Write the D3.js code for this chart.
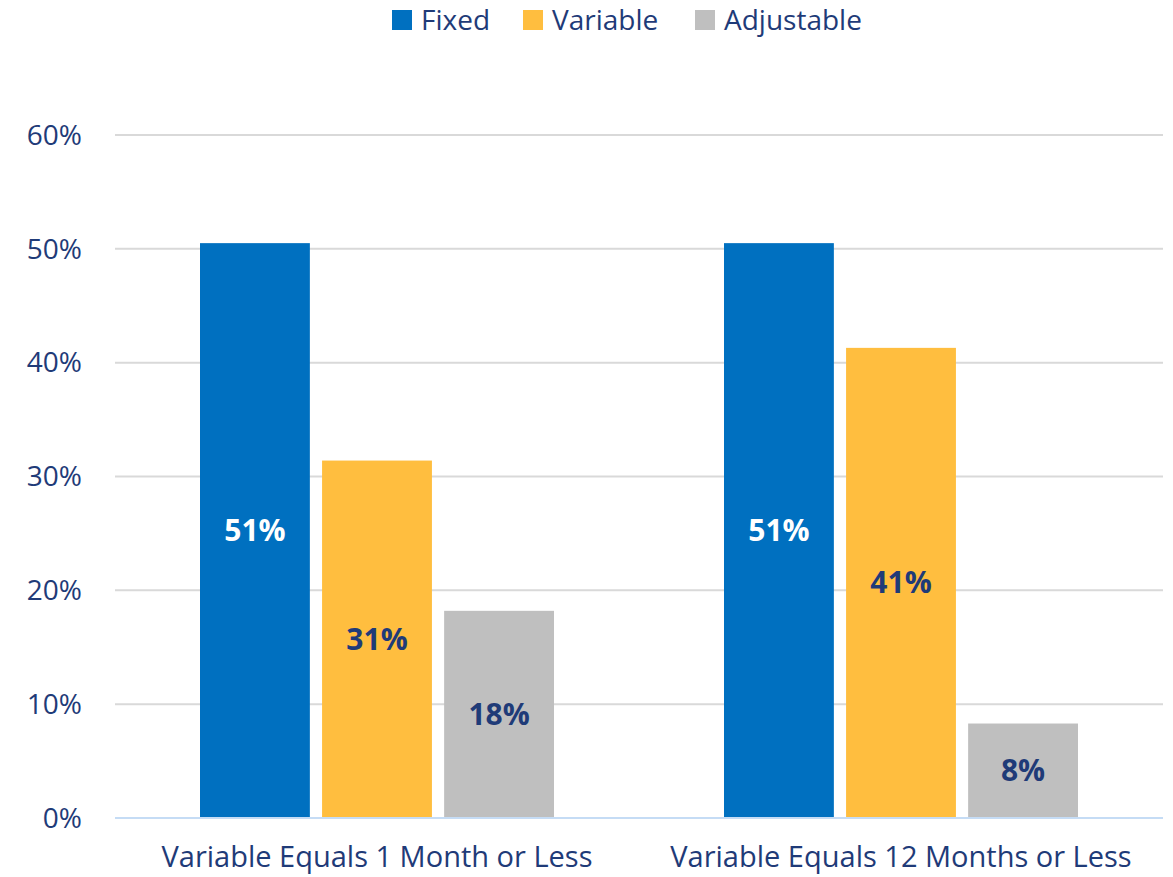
<!DOCTYPE html>
<html lang="en">
<head>
  <meta charset="UTF-8">
  <script src="https://d3js.org/d3.v7.min.js"></script>
  <title>Bar Chart</title>
  <style>
    body { margin: 0; background: #fff; }
    text { font-family: "Open Sans", "Noto Sans", sans-serif; }
  </style>
</head>
<body>
<div id="my_dataviz"></div>
<script>

var categories = ["Variable Equals 1 Month or Less", "Variable Equals 12 Months or Less"];
var seriesNames = ["Fixed", "Variable", "Adjustable"];
var fixed = [0.505, 0.505];
var variable = [0.314, 0.413];
var adjustable = [0.182, 0.083];
var yTicks = [0, 0.1, 0.2, 0.3, 0.4, 0.5, 0.6];

var colors = ["#0070C0", "#FFBE3F", "#BFBFBF"];
var labelColors = ["#ffffff", "#1F3B78", "#1F3B78"];
var textColor = "#1F3B78";

var W = 1173, H = 877;
var margin = {top: 135, right: 10, bottom: 59, left: 115},
    width = W - margin.left - margin.right,
    height = H - margin.top - margin.bottom;

var svg = d3.select("#my_dataviz")
  .append("svg")
    .attr("width", W)
    .attr("height", H);

var g = svg.append("g")
    .attr("transform", "translate(" + margin.left + "," + margin.top + ")");

var x0 = d3.scaleBand().domain(categories).range([0, width]).paddingInner(0).paddingOuter(0);
var x1 = d3.scaleBand().domain(seriesNames).range([85, x0.bandwidth() - 85]).paddingInner(0.1);
var y = d3.scaleLinear().domain([0, 0.6]).range([height, 0]);

// gridlines
g.selectAll(".grid")
  .data(yTicks.filter(function(d) { return d > 0; }))
  .enter().append("line")
    .attr("x1", 0).attr("x2", width)
    .attr("y1", function(d) { return y(d); })
    .attr("y2", function(d) { return y(d); })
    .attr("stroke", "#D9D9D9")
    .attr("stroke-width", 2);

// y labels
g.selectAll(".ylab")
  .data(yTicks)
  .enter().append("text")
    .attr("x", -33)
    .attr("y", function(d) { return y(d); })
    .attr("dy", "0.35em")
    .attr("text-anchor", "end")
    .attr("fill", textColor)
    .style("font-size", "28px")
    .text(d3.format(".0%"));

var rows = [];
categories.forEach(function(c, i) {
  [fixed, variable, adjustable].forEach(function(arr, j) {
    rows.push({cat: c, series: seriesNames[j], value: arr[i], idx: j});
  });
});

g.selectAll("rect")
  .data(rows)
  .enter().append("rect")
    .attr("x", function(d) { return x0(d.cat) + x1(d.series); })
    .attr("y", function(d) { return y(d.value); })
    .attr("width", x1.bandwidth())
    .attr("height", function(d) { return height - y(d.value); })
    .attr("fill", function(d) { return colors[d.idx]; });

g.selectAll(".dlab")
  .data(rows)
  .enter().append("text")
    .attr("x", function(d) { return x0(d.cat) + x1(d.series) + x1.bandwidth() / 2; })
    .attr("y", function(d) { return (y(d.value) + height) / 2; })
    .attr("dy", "0.35em")
    .attr("text-anchor", "middle")
    .attr("fill", function(d) { return labelColors[d.idx]; })
    .style("font-size", "30px")
    .style("font-weight", "bold")
    .text(function(d) { return Math.round(d.value * 100) + "%"; });

// baseline
g.append("line")
  .attr("x1", 0).attr("x2", width)
  .attr("y1", height).attr("y2", height)
  .attr("stroke", "#C5DCF5")
  .attr("stroke-width", 2);

// category labels
g.selectAll(".xlab")
  .data(categories)
  .enter().append("text")
    .attr("x", function(d) { return x0(d) + x0.bandwidth() / 2; })
    .attr("y", height + 39)
    .attr("dy", "0.35em")
    .attr("text-anchor", "middle")
    .attr("fill", textColor)
    .style("font-size", "29px")
    .text(function(d) { return d; });

// legend
var legendX = [392, 523, 695];
var legend = svg.selectAll(".leg")
  .data(seriesNames)
  .enter().append("g")
    .attr("transform", function(d, i) { return "translate(" + legendX[i] + ",10)"; });
legend.append("rect")
  .attr("width", 20).attr("height", 20)
  .attr("fill", function(d, i) { return colors[i]; });
legend.append("text")
  .attr("x", 29).attr("y", 10)
  .attr("dy", "0.35em")
  .attr("fill", textColor)
  .style("font-size", "28px")
  .text(function(d) { return d; });

</script>
</body>
</html>
